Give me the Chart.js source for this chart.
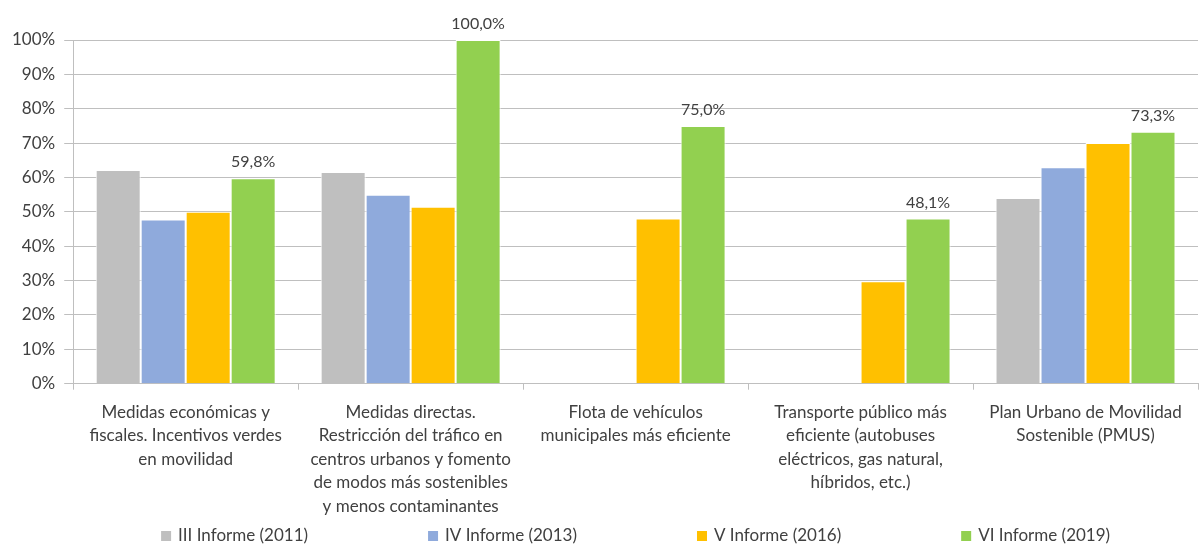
<!DOCTYPE html>
<html>
<head>
<meta charset="utf-8">
<script src="https://cdn.jsdelivr.net/npm/chart.js@4"></script>
<style>
  html, body { margin: 0; padding: 0; background: #fff; }
  #wrap { width: 1199px; height: 547px; }
</style>
</head>
<body>
<div id="wrap"><canvas id="myChart"></canvas></div>
<script>
var categories = [
    ['Medidas económicas y', 'fiscales. Incentivos verdes', 'en movilidad'],
    ['Medidas directas.', 'Restricción del tráfico en', 'centros urbanos y fomento', 'de modos más sostenibles', 'y menos contaminantes'],
    ['Flota de vehículos', 'municipales más eficiente'],
    ['Transporte público más', 'eficiente (autobuses', 'eléctricos, gas natural,', 'híbridos, etc.)'],
    ['Plan Urbano de Movilidad', 'Sostenible (PMUS)']
];
var informe2011 = [62.2, 61.6, null, null, 54.0];
var informe2013 = [47.8, 55.0, null, null, 63.0];
var informe2016 = [50.0, 51.5, 48.1, 29.8, 70.0];
var informe2019 = [59.8, 100.0, 75.0, 48.1, 73.3];

var fontFamily = 'Lato, "Open Sans", sans-serif';
var textColor = '#404040';

// labels only above the 2019 bars
var greenLabels = {
    id: 'greenLabels',
    afterDatasetsDraw: function(chart) {
        var ctx = chart.ctx;
        var meta = chart.getDatasetMeta(3);
        ctx.save();
        ctx.font = '16px ' + fontFamily;
        ctx.fillStyle = textColor;
        ctx.textAlign = 'center';
        ctx.textBaseline = 'bottom';
        meta.data.forEach(function(bar, i) {
            var v = informe2019[i];
            if (v == null) return;
            ctx.fillText(v.toFixed(1).replace('.', ',') + '%', bar.x, bar.y - 8);
        });
        ctx.restore();
    }
};

// legend in one row at the bottom, wide gaps like the original
var bottomLegend = {
    id: 'bottomLegend',
    afterDraw: function(chart) {
        var ctx = chart.ctx;
        var ds = chart.data.datasets;
        var box = 10, gap = 7, spacing = 120;
        ctx.save();
        ctx.font = '17px ' + fontFamily;
        var widths = ds.map(function(d) { return box + gap + ctx.measureText(d.label).width; });
        var total = widths.reduce(function(a, b) { return a + b; }, 0) + spacing * (ds.length - 1);
        var area = chart.chartArea;
        var x = (area.left + area.right) / 2 - total / 2;
        var y = chart.height - 11;
        ctx.textBaseline = 'middle';
        ctx.textAlign = 'left';
        ds.forEach(function(d, i) {
            ctx.fillStyle = d.backgroundColor;
            ctx.fillRect(x, y - box / 2, box, box);
            ctx.fillStyle = textColor;
            ctx.fillText(d.label, x + box + gap, y);
            x += widths[i] + spacing;
        });
        ctx.restore();
    }
};

var ctx = document.getElementById('myChart').getContext('2d');
var myChart = new Chart(ctx, {
    type: 'bar',
    data: {
        labels: categories,
        datasets: [{
            label: 'III Informe (2011)',
            data: informe2011,
            backgroundColor: '#BFBFBF'
        },
        {
            label: 'IV Informe (2013)',
            data: informe2013,
            backgroundColor: '#8FAADC'
        },
        {
            label: 'V Informe (2016)',
            data: informe2016,
            backgroundColor: '#FFC000'
        },
        {
            label: 'VI Informe (2019)',
            data: informe2019,
            backgroundColor: '#92D050'
        }]
    },
    options: {
        responsive: true,
        maintainAspectRatio: false,
        animation: false,
        datasets: {
            bar: {
                categoryPercentage: 0.8,
                barPercentage: 1.0,
                borderColor: '#FFFFFF',
                borderWidth: 1
            }
        },
        layout: {
            padding: { top: 40, right: 1, left: 3, bottom: 18 }
        },
        plugins: {
            legend: { display: false },
            tooltip: { enabled: false }
        },
        scales: {
            x: {
                grid: {
                    offset: true,
                    drawOnChartArea: false,
                    drawTicks: true,
                    tickLength: 6,
                    color: '#BFBFBF'
                },
                border: { color: '#BFBFBF' },
                ticks: {
                    color: textColor,
                    maxRotation: 0,
                    autoSkip: false,
                    padding: 11,
                    font: { family: fontFamily, size: 17, lineHeight: 1.38 }
                }
            },
            y: {
                min: 0,
                max: 100,
                grid: {
                    color: '#BFBFBF',
                    tickLength: 9
                },
                border: { color: '#BFBFBF' },
                ticks: {
                    stepSize: 10,
                    color: textColor,
                    padding: 9,
                    font: { family: fontFamily, size: 17 },
                    callback: function(v) { return v + '%'; }
                }
            }
        }
    },
    plugins: [greenLabels, bottomLegend]
});
</script>
</body>
</html>
